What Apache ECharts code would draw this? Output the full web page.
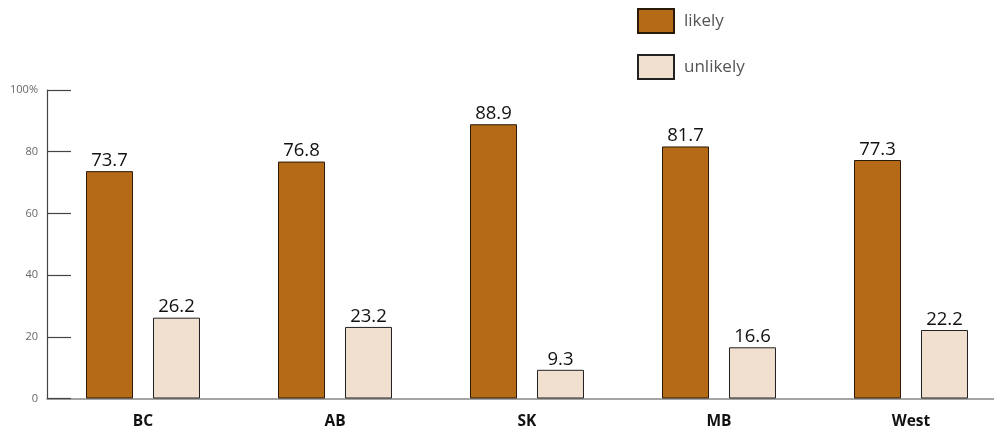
<!DOCTYPE html>
<html>
<head>
<meta charset="utf-8">
<script src="https://cdn.jsdelivr.net/npm/echarts@6/dist/echarts.min.js"></script>
<style>
  html, body { margin: 0; padding: 0; background: #fff; overflow: hidden; }
  #chart { width: 994px; height: 431px; }
</style>
</head>
<body>
<div id="chart"></div>
<script>
// Regions and survey shares (%)
const categories = ['BC', 'AB', 'SK', 'MB', 'West'];
const likely = [73.7, 76.8, 88.9, 81.7, 77.3];
const unlikely = [26.2, 23.2, 9.3, 16.6, 22.2];
const seriesNames = ['likely', 'unlikely'];

const FONT = '"Open Sans", "Noto Sans", sans-serif';
const chart = echarts.init(document.getElementById('chart'), null, { renderer: 'canvas' });

const barLabel = {
  show: true,
  position: 'top',
  distance: 1,
  fontFamily: FONT,
  fontSize: 18.5,
  color: '#111'
};

chart.setOption({
  animation: false,
  textStyle: { fontFamily: FONT },
  legend: {
    orient: 'vertical',
    left: 637,
    top: 8,
    padding: 0,
    itemWidth: 36,
    itemHeight: 24,
    itemGap: 20,
    icon: 'rect',
    textStyle: { fontFamily: FONT, fontSize: 17, color: '#555', padding: [0, 0, 0, 5] },
    data: seriesNames
  },
  // the plot runs slightly past the right edge of the canvas
  grid: {
    left: 47, top: 90, width: 960, height: 308.5,
    containLabel: false,
    outerBoundsMode: 'none'
  },
  xAxis: {
    type: 'category',
    data: categories,
    axisLine: { lineStyle: { color: '#888', width: 1.5 } },
    axisTick: { show: false },
    axisLabel: { margin: 15, fontFamily: FONT, fontSize: 15.5, fontWeight: 'bold', color: '#111' }
  },
  yAxis: {
    type: 'value',
    min: 0,
    max: 100,
    interval: 20,
    axisLine: { show: true, lineStyle: { color: '#444', width: 1.2 } },
    axisTick: { show: true, inside: true, length: 24, lineStyle: { color: '#444', width: 1.2 } },
    splitLine: { show: false },
    axisLabel: {
      margin: 9,
      fontFamily: FONT,
      fontSize: 11,
      color: '#666',
      formatter: v => (v === 100 ? '100%' : String(v))
    }
  },
  series: [
    {
      name: seriesNames[0],
      type: 'bar',
      data: likely,
      barWidth: 47,
      barGap: '42.5%',
      itemStyle: { color: '#B46A16', borderColor: '#2a1a0a', borderWidth: 1 },
      label: barLabel
    },
    {
      name: seriesNames[1],
      type: 'bar',
      data: unlikely,
      barWidth: 47,
      itemStyle: { color: '#F1E0D0', borderColor: '#222', borderWidth: 1 },
      label: barLabel
    }
  ]
});
</script>
</body>
</html>
